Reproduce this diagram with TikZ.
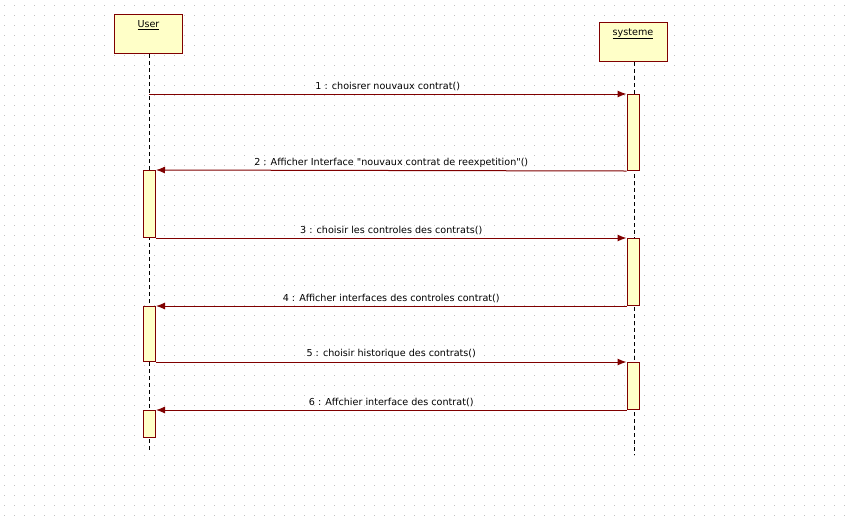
\documentclass[tikz,border=0pt]{standalone}
\usepackage{fontspec}
\setmainfont{DejaVu Sans}
\usetikzlibrary{arrows.meta}
\definecolor{umlred}{RGB}{128,0,0}
\definecolor{umlfill}{RGB}{255,255,200}
\begin{document}
\begin{tikzpicture}[x=1pt, y=-1pt, font=\fontsize{9.6}{11}\selectfont, line width=1pt,
    obj/.style={rectangle, draw=umlred, fill=umlfill, minimum width=68pt, minimum height=39pt, anchor=north, inner sep=0pt},
    act/.style={rectangle, draw=umlred, fill=umlfill, minimum width=12pt, anchor=north, inner sep=0pt},
    life/.style={draw=black, dash pattern=on 4pt off 3pt},
    msg/.style={draw=umlred, -{Latex[length=9pt, width=7pt]}},
    lbl/.style={above, inner sep=3pt}]
    \useasboundingbox (0,0) rectangle (854,515);
    % dotted background
    \foreach \y in {5,15,...,515}
        \draw[black!24, dash pattern=on 1pt off 9pt] (4,\y) -- (854,\y);
    % objects
    \node[obj] (user) at (148.5,14) {};
    \node[anchor=north, inner sep=0pt] at (user.north) [yshift=-6pt] {\underline{User}};
    \node[obj] (sys) at (633,22) {};
    \node[anchor=north, inner sep=0pt] at (sys.north) [yshift=-6pt] {\underline{systeme}};
    % lifelines
    \coordinate (uend) at (149,452);
    \coordinate (send) at (634,455);
    \draw[life] (user.south -| uend) -- (uend);
    \draw[life] (sys.south -| send) -- (send);
    % activations
    \node[act, minimum height=76pt] (s1) at (633,94) {};
    \node[act, minimum height=67pt] (s2) at (633,238) {};
    \node[act, minimum height=47pt] (s3) at (633,362) {};
    \node[act, minimum height=67pt] (u1) at (149.5,170) {};
    \node[act, minimum height=55pt] (u2) at (149.5,306) {};
    \node[act, minimum height=27pt] (u3) at (149.5,410) {};
    % messages
    \coordinate (m1) at (149,94);
    \draw[msg] (m1) -- node[lbl] {1 : choisrer nouvaux contrat()} (s1.north west);
    \draw[msg] (s1.south west) -- node[lbl] {2 : Afficher Interface \textquotedbl nouvaux contrat de reexpetition\textquotedbl()} (u1.north east);
    \draw[msg] (u1.south east) -- node[lbl] {3 : choisir les controles des contrats()} (s2.north west);
    \draw[msg] (s2.south west) -- node[lbl] {4 : Afficher interfaces des controles contrat()} (u2.north east);
    \draw[msg] (u2.south east) -- node[lbl] {5 : choisir historique des contrats()} (s3.north west);
    \draw[msg] (s3.south west) -- node[lbl] {6 : Affchier interface des contrat()} (u3.north east);
\end{tikzpicture}
\end{document}
